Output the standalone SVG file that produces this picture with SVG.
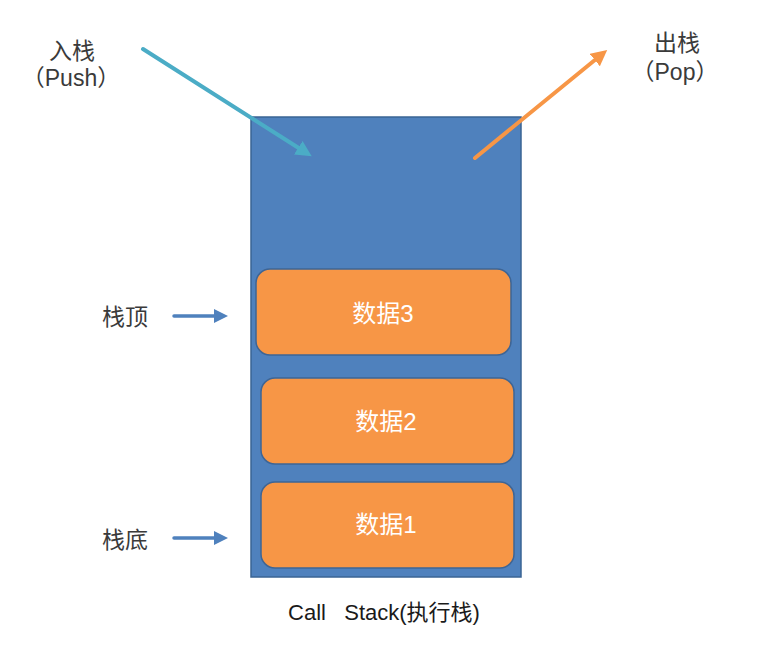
<svg xmlns="http://www.w3.org/2000/svg" width="765" height="661" viewBox="0 0 765 661">
<defs>
<style>
.lbl{font-family:"Liberation Sans","Noto Sans CJK SC",sans-serif;font-size:23px;fill:#3a3a3a;text-anchor:middle;dominant-baseline:central}
.cap{font-family:"Liberation Sans","Noto Sans CJK SC",sans-serif;font-size:22px;fill:#1a1a1a;text-anchor:middle;dominant-baseline:central;white-space:pre}
.dt{font-family:"Liberation Sans","Noto Sans CJK SC",sans-serif;font-size:24px;fill:#ffffff;text-anchor:middle;dominant-baseline:central}
.box{fill:#F79646;stroke:#3E6595;stroke-width:1.5}
</style>
<marker id="hb" markerWidth="4" markerHeight="4" refX="2" refY="2" orient="auto" markerUnits="strokeWidth"><path d="M0,0 L4,2 L0,4 Z" fill="#4BACC6"/></marker>
<marker id="ho" markerWidth="4" markerHeight="4" refX="2" refY="2" orient="auto" markerUnits="strokeWidth"><path d="M0,0 L4,2 L0,4 Z" fill="#F79646"/></marker>
<marker id="hs" markerWidth="4" markerHeight="4" refX="2" refY="2" orient="auto" markerUnits="strokeWidth"><path d="M0,0 L4,2 L0,4 Z" fill="#4F81BD"/></marker>
</defs>
<rect width="765" height="661" fill="#ffffff"/>
<g id="stack">
<rect x="251" y="117" width="270" height="460" fill="#4F81BD" stroke="#3A6494" stroke-width="1.5"/>
</g>
<g id="data3">
<rect class="box" x="256" y="269" width="255" height="86" rx="14"/>
<text class="dt" x="383" y="313">数据3</text>
</g>
<g id="data2">
<rect class="box" x="261" y="378" width="253" height="86" rx="14"/>
<text class="dt" x="386" y="421">数据2</text>
</g>
<g id="data1">
<rect class="box" x="261" y="482" width="253" height="86" rx="14"/>
<text class="dt" x="386" y="524">数据1</text>
</g>
<g id="labels">
<text class="lbl" x="72" y="51">入栈</text>
<text class="lbl" x="71" y="78">（Push）</text>
<text class="lbl" x="677" y="43">出栈</text>
<text class="lbl" x="675" y="72">（Pop）</text>
<text class="lbl" x="125" y="317">栈顶</text>
<text class="lbl" x="125" y="540">栈底</text>
<text class="cap" x="384" y="612" xml:space="preserve">Call   Stack(执行栈)</text>
</g>
<g id="connectors" fill="none" stroke-linecap="round">
<line x1="143" y1="49" x2="305" y2="152" stroke="#4BACC6" stroke-width="4" marker-end="url(#hb)"/>
<line x1="475" y1="158" x2="601" y2="55" stroke="#F79646" stroke-width="4" marker-end="url(#ho)"/>
<line x1="174" y1="316" x2="221" y2="316" stroke="#4F81BD" stroke-width="3.5" marker-end="url(#hs)"/>
<line x1="174" y1="538" x2="221" y2="538" stroke="#4F81BD" stroke-width="3.5" marker-end="url(#hs)"/>
</g>
</svg>
